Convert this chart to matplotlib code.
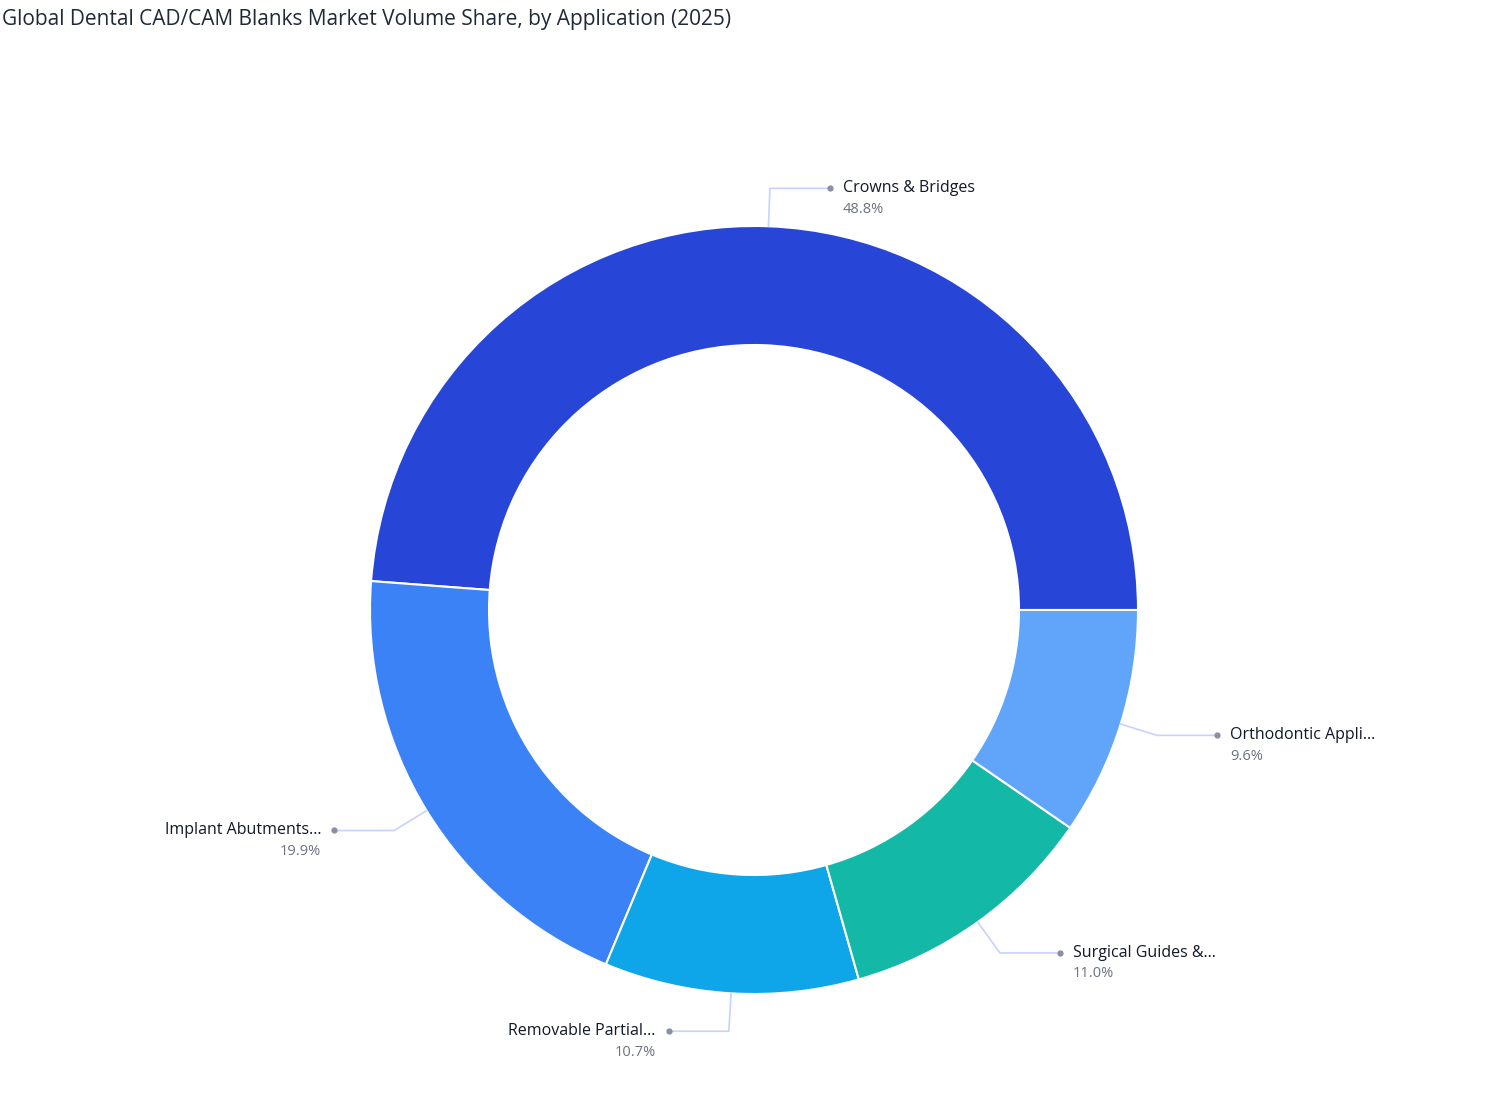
import numpy as np
import matplotlib
matplotlib.use("Agg")
import matplotlib.pyplot as plt

categories = ["Crowns & Bridges", "Implant Abutments...", "Removable Partial...", "Surgical Guides &...", "Orthodontic Appli..."]
shares = [48.8, 19.9, 10.7, 11.0, 9.6]
colors = ["#2746D8", "#3B82F6", "#0EA5E9", "#14B8A6", "#60A5FA"]

W, H = 1508, 1120
fig = plt.figure(figsize=(W/100, H/100), dpi=100)
ax = fig.add_axes([0, 0, 1, 1])
ax.set_xlim(0, W); ax.set_ylim(0, H); ax.set_aspect("equal"); ax.axis("off")

cx, cy, R, r_in = 754, H - 610, 384, 265
wedges, _ = ax.pie(shares, colors=colors, startangle=0, counterclock=True,
                   center=(cx, cy), radius=R, frame=True,
                   wedgeprops=dict(width=R - r_in, edgecolor="white", linewidth=1.5))
ax.set_xlim(0, W); ax.set_ylim(0, H); ax.axis("off")

total = sum(shares)
start = 0.0
for name, v in zip(categories, shares):
    ang = start + v / total * 180.0
    start += v / total * 360.0
    t = np.deg2rad(ang)
    p0 = (cx + R * np.cos(t), cy + R * np.sin(t))
    p1 = (cx + 422 * np.cos(t), cy + 422 * np.sin(t))
    right = np.cos(t) >= 0
    dx = 60 if right else -60
    p2 = (p1[0] + dx, p1[1])
    ax.plot([p0[0], p1[0], p2[0]], [p0[1], p1[1], p2[1]], color="#c7d2fe", lw=1.2, zorder=1)
    ax.plot(p2[0], p2[1], "o", color="#8b8fa0", ms=3.5, zorder=2)
    tx = p2[0] + (13 if right else -13)
    ha = "left" if right else "right"
    ax.text(tx, p2[1], name, ha=ha, va="center", fontsize=11.5, color="#111827", family="Open Sans")
    ax.text(tx, p2[1] - 21, f"{v:.1f}%", ha=ha, va="center", fontsize=10.5, color="#6b7280", family="Open Sans")

fig.text(2/W, 1 - 20/H, "Global Dental CAD/CAM Blanks Market Volume Share, by Application (2025)",
         ha="left", va="center", fontsize=15, color="#1f2937", family="Open Sans")
fig.savefig("out.png", dpi=100, facecolor="white")
